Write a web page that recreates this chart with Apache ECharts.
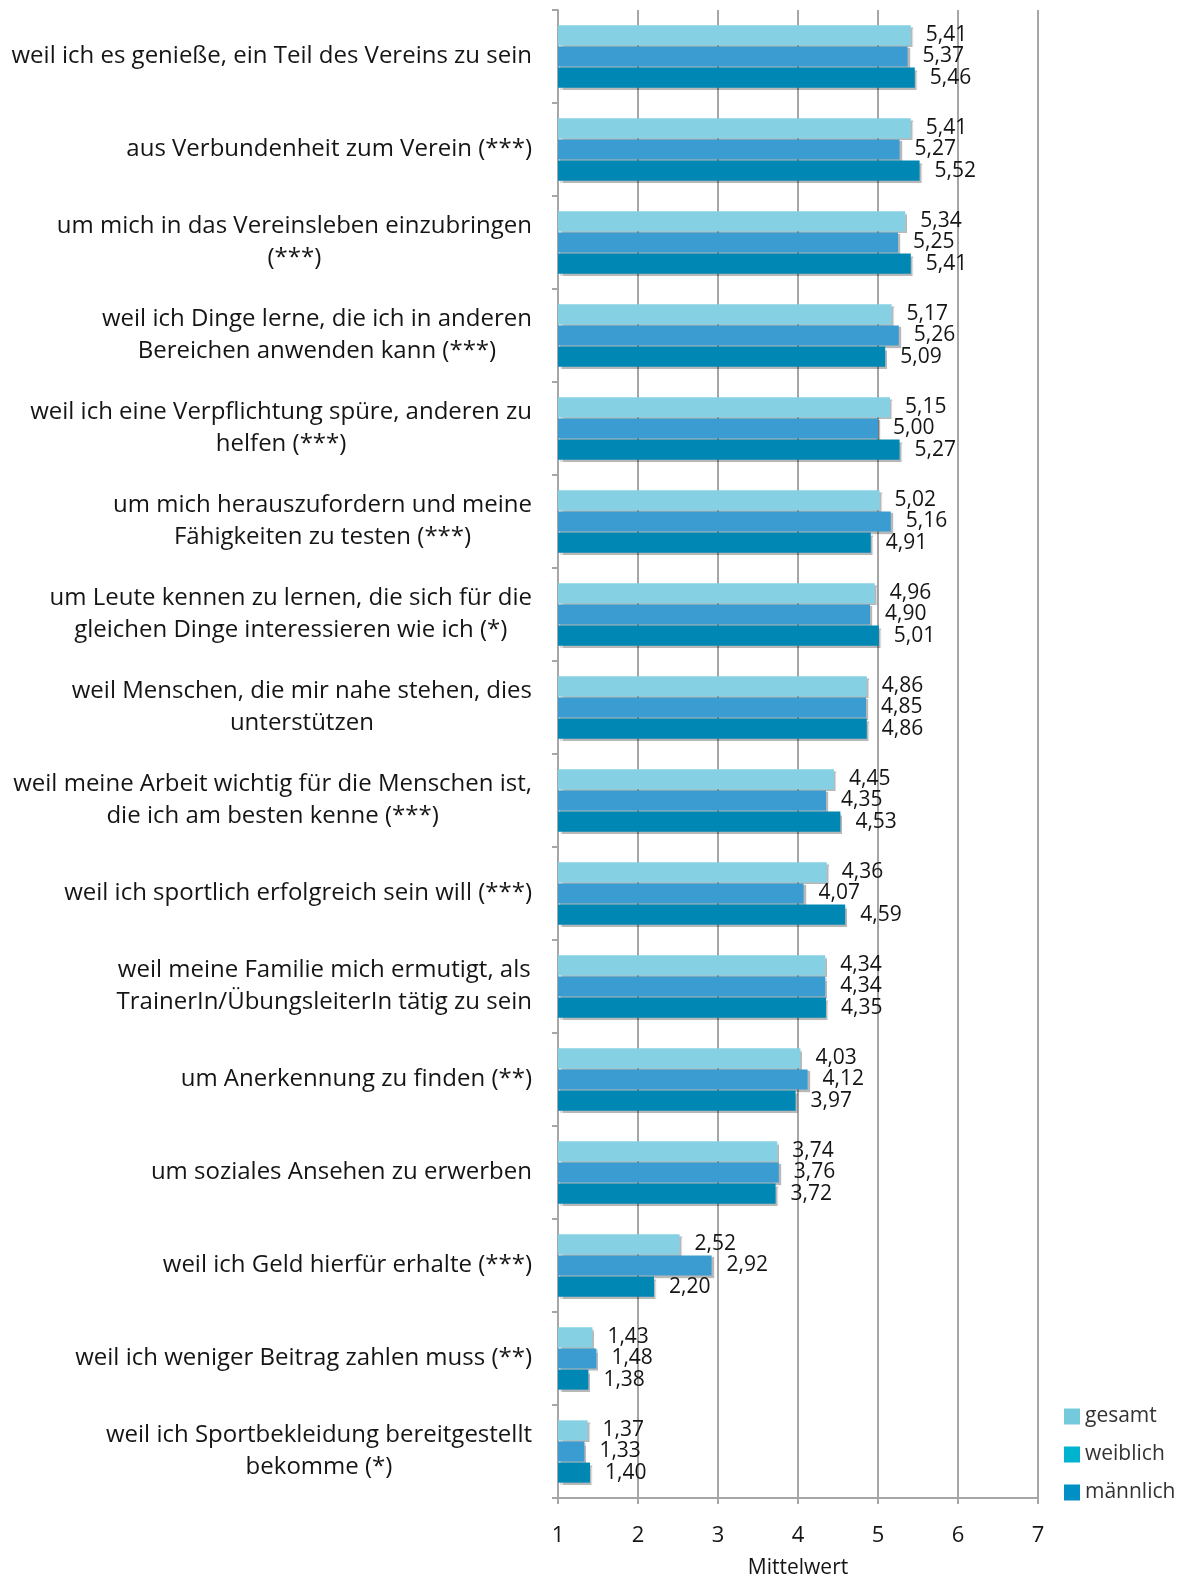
<!DOCTYPE html>
<html>
<head>
<meta charset="utf-8">
<script src="https://cdn.jsdelivr.net/npm/echarts@6/dist/echarts.min.js"></script>
<style>
  html, body { margin: 0; padding: 0; background: #fff; }
  #chart { width: 1182px; height: 1580px; }
</style>
</head>
<body>
<div id="chart"></div>
<script>
// Gründe für das Engagement, Mittelwerte
const categories = [
  'weil ich es genieße, ein Teil des Vereins zu sein',
  'aus Verbundenheit zum Verein (***)',
  'um mich in das Vereinsleben einzubringen\n(***)',
  'weil ich Dinge lerne, die ich in anderen\nBereichen anwenden kann (***)',
  'weil ich eine Verpflichtung spüre, anderen zu\nhelfen (***)',
  'um mich herauszufordern und meine\nFähigkeiten zu testen (***)',
  'um Leute kennen zu lernen, die sich für die\ngleichen Dinge interessieren wie ich (*)',
  'weil Menschen, die mir nahe stehen, dies\nunterstützen',
  'weil meine Arbeit wichtig für die Menschen ist,\ndie ich am besten kenne (***)',
  'weil ich sportlich erfolgreich sein will (***)',
  'weil meine Familie mich ermutigt, als\nTrainerIn/ÜbungsleiterIn tätig zu sein',
  'um Anerkennung zu finden (**)',
  'um soziales Ansehen zu erwerben',
  'weil ich Geld hierfür erhalte (***)',
  'weil ich weniger Beitrag zahlen muss (**)',
  'weil ich Sportbekleidung bereitgestellt\nbekomme (*)'
]
const gesamt   = [5.41, 5.41, 5.34, 5.17, 5.15, 5.02, 4.96, 4.86, 4.45, 4.36, 4.34, 4.03, 3.74, 2.52, 1.43, 1.37]
const weiblich = [5.37, 5.27, 5.25, 5.26, 5.00, 5.16, 4.90, 4.85, 4.35, 4.07, 4.34, 4.12, 3.76, 2.92, 1.48, 1.33]
const maennlich = [5.46, 5.52, 5.41, 5.09, 5.27, 4.91, 5.01, 4.86, 4.53, 4.59, 4.35, 3.97, 3.72, 2.20, 1.38, 1.40]
const xTicks = [1, 2, 3, 4, 5, 6, 7]

const FONT = '"Open Sans", "Noto Sans", sans-serif'
const TXT = '#151515'
const barColors = ['#85d0e3', '#3a9cd0', '#0087b4']
const legendColors = ['#74cadb', '#00b4cf', '#0090c6']

function fmt(v) {
  return v.toFixed(2).replace('.', ',')
}

function makeSeries(name, data, idx) {
  return {
    name: name,
    type: 'bar',
    data: data,
    barGap: '5%',
    barCategoryGap: '33%',
    itemStyle: {
      color: barColors[idx],
      shadowColor: 'rgba(0,0,0,0.28)',
      shadowOffsetX: 2,
      shadowOffsetY: 2,
      shadowBlur: 1
    },
    label: {
      show: true,
      position: 'right',
      distance: 15,
      fontFamily: FONT,
      fontSize: 21,
      color: TXT,
      formatter: p => fmt(p.value)
    }
  }
}

const chart = echarts.init(document.getElementById('chart'))
chart.setOption({
  animation: false,
  textStyle: { fontFamily: FONT },
  grid: { left: 558, right: 144, top: 10, bottom: 82, outerBoundsMode: 'none', containLabel: false },
  legend: {
    orient: 'vertical',
    left: 1059,
    top: 1401,
    itemWidth: 16,
    itemHeight: 16,
    itemGap: 17,
    icon: 'rect',
    textStyle: { fontFamily: FONT, fontSize: 21, color: '#333' },
    data: [
      { name: 'gesamt', itemStyle: { color: legendColors[0] } },
      { name: 'weiblich', itemStyle: { color: legendColors[1] } },
      { name: 'männlich', itemStyle: { color: legendColors[2] } }
    ]
  },
  xAxis: {
    type: 'value',
    min: 1,
    max: 7,
    interval: 1,
    name: 'Mittelwert',
    nameLocation: 'middle',
    nameGap: 60,
    nameTextStyle: { fontFamily: FONT, fontSize: 21, color: TXT },
    axisLine: { show: true, lineStyle: { color: '#a6a6a6', width: 2 } },
    axisTick: { show: true, length: 6, lineStyle: { color: '#a6a6a6', width: 2 } },
    axisLabel: {
      margin: 27,
      fontFamily: FONT,
      fontSize: 22,
      color: TXT,
      formatter: v => xTicks.indexOf(v) >= 0 ? String(v) : ''
    },
    splitLine: { show: true, lineStyle: { color: '#a6a6a6', width: 2 } }
  },
  yAxis: {
    type: 'category',
    inverse: true,
    data: categories,
    axisLine: { show: true, lineStyle: { color: '#a6a6a6', width: 2 } },
    axisTick: { show: true, length: 6, lineStyle: { color: '#a6a6a6', width: 2 } },
    axisLabel: {
      margin: 26,
      fontFamily: FONT,
      fontSize: 24,
      color: TXT,
      lineHeight: 32,
      formatter: v => v.split('\n').map(l => '{c|' + l + '}').join('\n'),
      rich: {
        c: { align: 'center', fontFamily: FONT, fontSize: 24, color: TXT, lineHeight: 32 }
      }
    }
  },
  series: [
    makeSeries('gesamt', gesamt, 0),
    makeSeries('weiblich', weiblich, 1),
    makeSeries('männlich', maennlich, 2)
  ]
})
</script>
</body>
</html>
